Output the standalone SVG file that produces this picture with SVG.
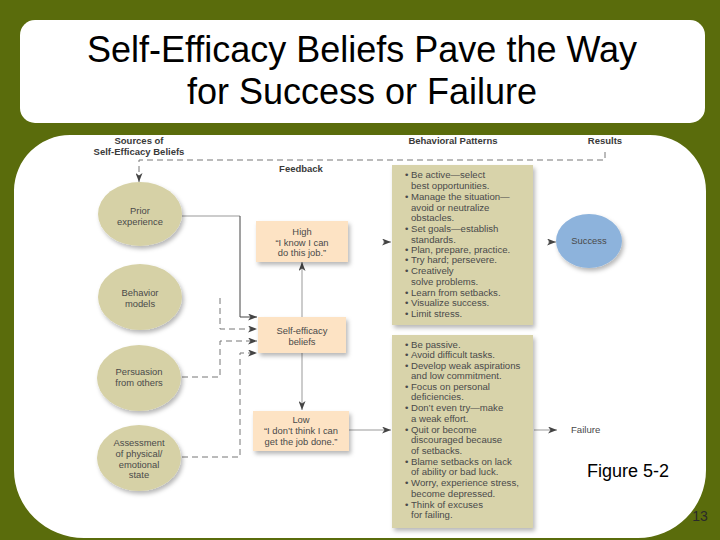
<svg xmlns="http://www.w3.org/2000/svg" width="720" height="540" viewBox="0 0 720 540">
<defs>
<filter id="sh" x="-20%" y="-20%" width="150%" height="150%"><feDropShadow dx="2" dy="3" stdDeviation="2.2" flood-color="#000" flood-opacity="0.28"/></filter>
<marker id="ah" markerUnits="userSpaceOnUse" markerWidth="9" markerHeight="7" refX="9" refY="3.5" orient="auto"><path d="M0,0 L9,3.5 L0,7 L2.5,3.5 z" fill="#444"/></marker>
</defs>
<style>
.title{font-family:"Liberation Sans",Arial,sans-serif;font-size:36px;fill:#000;text-anchor:middle}
.hd{font-family:"Liberation Sans",Arial,sans-serif;font-size:9.5px;font-weight:bold;fill:#3a3a3a}
.t{font-family:"Liberation Sans",Arial,sans-serif;font-size:9.4px;fill:#4a4a4a;text-anchor:middle}
.b{font-family:"Liberation Sans",Arial,sans-serif;font-size:9.6px;fill:#4a4a4a}
.src{fill:#d6d1a6;filter:url(#sh)}
.box{fill:#fde3c4;filter:url(#sh)}
.pat{fill:#d8d3aa;filter:url(#sh)}
.ln{fill:none;stroke:#999;stroke-width:1}
.dk{fill:none;stroke:#444;stroke-width:1}
.ds{fill:none;stroke:#777;stroke-width:1;stroke-dasharray:6,4}
</style>
<rect width="720" height="540" fill="#5a6c0c"/>
<rect x="20" y="20" width="685" height="103" rx="15" fill="#fff"/>
<path d="M14,190 A56,56 0 0 1 70,135 L650,135 A56,56 0 0 1 706,191 L706,470 A68,68 0 0 1 638,538 L84,538 A70,68 0 0 1 14,470 Z" fill="#fff"/>
<g id="title">
<text class="title" x="362" y="62">Self-Efficacy Beliefs Pave the Way</text>
<text class="title" x="362" y="104">for Success or Failure</text>
</g>
<g id="headers">
<text class="hd" x="139" y="144" text-anchor="middle">Sources of</text>
<text class="hd" x="139" y="155" text-anchor="middle">Self-Efficacy Beliefs</text>
<text class="hd" x="453" y="144" text-anchor="middle">Behavioral Patterns</text>
<text class="hd" x="605" y="144" text-anchor="middle">Results</text>
<text class="hd" x="301" y="172" text-anchor="middle">Feedback</text>
</g>
<g id="connectors">
<path class="ds" d="M605,152 L605,160 L139,160 L139,182" marker-end="url(#ah)"/>
<path class="ln" d="M182,216 L240,216"/>
<path class="dk" d="M240,216 L240,317 L257,317" marker-end="url(#ah)"/>
<path class="ds" d="M220,298 L220,329 L257,329" marker-end="url(#ah)"/>
<path class="ds" d="M182,377 L220,377 L220,341 L257,341" marker-end="url(#ah)"/>
<path class="ds" d="M182,457 L240,457 L240,353 L257,353" marker-end="url(#ah)"/>
<path class="ln" d="M302,317 L302,262" marker-end="url(#ah)"/>
<path class="ln" d="M302,353 L302,410" marker-end="url(#ah)"/>
<path class="ln" d="M383,242 L391,242" marker-end="url(#ah)"/>
<path class="ln" d="M548,242 L556,242" marker-end="url(#ah)"/>
<path class="ln" d="M349,430 L391,430" marker-end="url(#ah)"/>
<path class="ln" d="M534,430 L557,430" marker-end="url(#ah)"/>
</g>
<g id="prior">
<ellipse class="src" cx="140" cy="214" rx="42" ry="32"/>
<text class="t" x="140" y="214">Prior</text>
<text class="t" x="140" y="225">experience</text>
</g>
<g id="behavior">
<ellipse class="src" cx="140" cy="297" rx="42" ry="33"/>
<text class="t" x="140" y="296">Behavior</text>
<text class="t" x="140" y="307">models</text>
</g>
<g id="persuasion">
<ellipse class="src" cx="139" cy="378" rx="42" ry="33"/>
<text class="t" x="139" y="375">Persuasion</text>
<text class="t" x="139" y="386">from others</text>
</g>
<g id="assessment">
<ellipse class="src" cx="139" cy="458" rx="42" ry="33"/>
<text class="t" x="139" y="446">Assessment</text>
<text class="t" x="139" y="457">of physical/</text>
<text class="t" x="139" y="468">emotional</text>
<text class="t" x="139" y="478">state</text>
</g>
<g id="high">
<rect class="box" x="256" y="221" width="92" height="41"/>
<text class="t" x="302" y="235">High</text>
<text class="t" x="302" y="246">“I know I can</text>
<text class="t" x="302" y="256">do this job.”</text>
</g>
<g id="selfefficacy">
<rect class="box" x="258" y="317" width="88" height="36"/>
<text class="t" x="302" y="334">Self-efficacy</text>
<text class="t" x="302" y="345">beliefs</text>
</g>
<g id="low">
<rect class="box" x="253" y="411" width="96" height="40"/>
<text class="t" x="301" y="423">Low</text>
<text class="t" x="301" y="434">“I don’t think I can</text>
<text class="t" x="301" y="445">get the job done.”</text>
</g>
<g id="positive">
<rect class="pat" x="392" y="165" width="141" height="160"/>
<text class="b" x="405" y="178">•</text><text class="b" x="411" y="178">Be active—select</text>
<text class="b" x="411" y="189">best opportunities.</text>
<text class="b" x="405" y="200">•</text><text class="b" x="411" y="200">Manage the situation—</text>
<text class="b" x="411" y="211">avoid or neutralize</text>
<text class="b" x="411" y="221">obstacles.</text>
<text class="b" x="405" y="232">•</text><text class="b" x="411" y="232">Set goals—establish</text>
<text class="b" x="411" y="243">standards.</text>
<text class="b" x="405" y="253">•</text><text class="b" x="411" y="253">Plan, prepare, practice.</text>
<text class="b" x="405" y="263">•</text><text class="b" x="411" y="263">Try hard; persevere.</text>
<text class="b" x="405" y="274">•</text><text class="b" x="411" y="274">Creatively</text>
<text class="b" x="411" y="285">solve problems.</text>
<text class="b" x="405" y="296">•</text><text class="b" x="411" y="296">Learn from setbacks.</text>
<text class="b" x="405" y="306">•</text><text class="b" x="411" y="306">Visualize success.</text>
<text class="b" x="405" y="317">•</text><text class="b" x="411" y="317">Limit stress.</text>
</g>
<g id="negative">
<rect class="pat" x="392" y="335" width="141" height="193"/>
<text class="b" x="405" y="348">•</text><text class="b" x="411" y="348">Be passive.</text>
<text class="b" x="405" y="358">•</text><text class="b" x="411" y="358">Avoid difficult tasks.</text>
<text class="b" x="405" y="369">•</text><text class="b" x="411" y="369">Develop weak aspirations</text>
<text class="b" x="411" y="379">and low commitment.</text>
<text class="b" x="405" y="390">•</text><text class="b" x="411" y="390">Focus on personal</text>
<text class="b" x="411" y="400">deficiencies.</text>
<text class="b" x="405" y="411">•</text><text class="b" x="411" y="411">Don’t even try—make</text>
<text class="b" x="411" y="422">a weak effort.</text>
<text class="b" x="405" y="433">•</text><text class="b" x="411" y="433">Quit or become</text>
<text class="b" x="411" y="443">discouraged because</text>
<text class="b" x="411" y="454">of setbacks.</text>
<text class="b" x="405" y="465">•</text><text class="b" x="411" y="465">Blame setbacks on lack</text>
<text class="b" x="411" y="475">of ability or bad luck.</text>
<text class="b" x="405" y="486">•</text><text class="b" x="411" y="486">Worry, experience stress,</text>
<text class="b" x="411" y="497">become depressed.</text>
<text class="b" x="405" y="508">•</text><text class="b" x="411" y="508">Think of excuses</text>
<text class="b" x="411" y="518">for failing.</text>
</g>
<g id="success">
<ellipse cx="589" cy="241" rx="33" ry="27" fill="#8db3dc" filter="url(#sh)"/>
<text class="t" x="589" y="244">Success</text>
</g>
<g id="failure">
<text class="b" x="571" y="433">Failure</text>
</g>
<text x="587" y="477" font-family="'Liberation Sans',Arial,sans-serif" font-size="18" fill="#000">Figure 5-2</text>
<text x="700" y="521" font-family="'Liberation Sans',Arial,sans-serif" font-size="14" fill="#2a2a2a" text-anchor="middle">13</text>
</svg>
